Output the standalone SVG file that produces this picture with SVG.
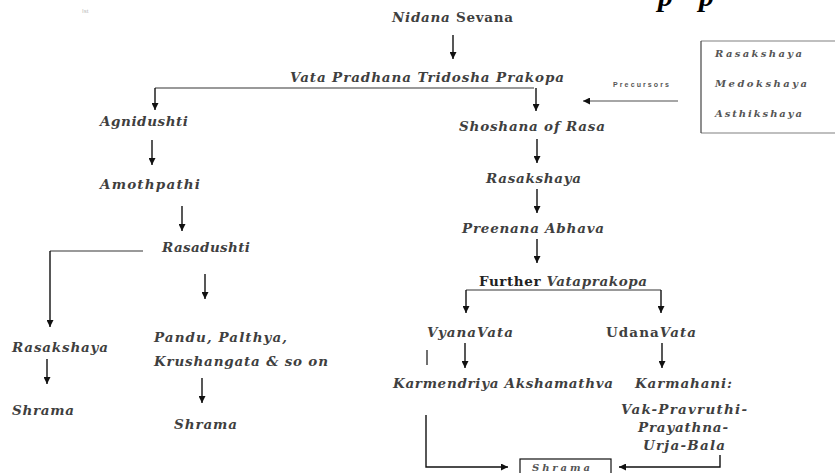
<svg xmlns="http://www.w3.org/2000/svg" width="835" height="473" viewBox="0 0 835 473">
<defs>
<marker id="ah" markerUnits="userSpaceOnUse" markerWidth="7" markerHeight="7" refX="7" refY="3.5" orient="auto">
<path d="M0,0 L7,3.5 L0,7 z" fill="#111"/>
</marker>
<style>
.t{font-family:"DejaVu Serif","Liberation Serif",serif;font-style:italic;font-weight:bold;font-size:13.5px;fill:#3f3f3f}
.s{font-family:"DejaVu Serif","Liberation Serif",serif;font-style:italic;font-weight:bold;font-size:10px;fill:#555}
.u{font-style:normal}
.b{font-style:normal;font-weight:bold;fill:#222}
.a{stroke:#111;stroke-width:1.4;fill:none;marker-end:url(#ah)}
.l{stroke:#777;stroke-width:1.4;fill:none}
.k{stroke:#111;stroke-width:1.2;fill:none}
</style>
</defs>
<rect width="835" height="473" fill="#fff"/>
<text x="82" y="13" font-family="Liberation Sans,sans-serif" font-size="6" fill="#bbb">Ist</text>
<text x="658" y="6" font-family="Liberation Serif,serif" font-style="italic" font-weight="bold" font-size="30" fill="#000">p</text>
<text x="699" y="6" font-family="Liberation Serif,serif" font-style="italic" font-weight="bold" font-size="30" fill="#000">p</text>

<g id="connectors">
<line class="a" x1="453" y1="35" x2="453" y2="59"/>
<polyline class="l" points="155,88 534,88"/>
<line class="a" x1="155" y1="88" x2="155" y2="110"/>
<line class="a" x1="536" y1="88" x2="536" y2="111"/>
<line class="a" x1="152" y1="140" x2="152" y2="165"/>
<line class="a" x1="182" y1="206" x2="182" y2="231"/>
<polyline class="l" points="143,251 50,251"/>
<line class="a" x1="50" y1="251" x2="50" y2="327"/>
<line class="a" x1="205" y1="274" x2="205" y2="299"/>
<line class="a" x1="47" y1="359" x2="47" y2="384"/>
<line class="a" x1="202" y1="378" x2="202" y2="403"/>
<line class="a" x1="678" y1="101" x2="583" y2="101" style="stroke:#888"/>
<line class="a" x1="537" y1="139" x2="537" y2="163"/>
<line class="a" x1="537" y1="189" x2="537" y2="213"/>
<line class="a" x1="537" y1="239" x2="537" y2="263"/>
<polyline class="l" points="466,290 661,290"/>
<line class="a" x1="466" y1="290" x2="466" y2="313"/>
<line class="a" x1="661" y1="290" x2="661" y2="313"/>
<line class="a" x1="465" y1="343" x2="465" y2="368"/>
<line class="a" x1="662" y1="343" x2="662" y2="368"/>
<line class="k" x1="427" y1="350" x2="427" y2="365"/>
<polyline class="a" points="426,415 426,467 508,467"/>
<polyline class="a" points="720,455 720,467 619,467"/>
</g>

<g id="n-nidana"><text class="t" x="392" y="22" textLength="121">Nidana <tspan class="u">Sevana</tspan></text></g>
<g id="n-vata"><text class="t" x="290" y="82" textLength="274">Vata Pradhana Tridosha Prakopa</text></g>
<g id="n-agni"><text class="t" x="100" y="126" textLength="88">Agnidushti</text></g>
<g id="n-amoth"><text class="t" x="100" y="189" textLength="100">Amothpathi</text></g>
<g id="n-rasadushti"><text class="t" x="162" y="252" textLength="88">Rasadushti</text></g>
<g id="n-rasakshaya-l"><text class="t" x="12" y="352" textLength="96">Rasakshaya</text></g>
<g id="n-shrama-l"><text class="t" x="12" y="415" textLength="62">Shrama</text></g>
<g id="n-pandu"><text class="t" x="154" y="342" textLength="133">Pandu, Palthya,</text><text class="t" x="154" y="366" textLength="174">Krushangata &amp; so on</text></g>
<g id="n-shrama-m"><text class="t" x="174" y="429" textLength="63">Shrama</text></g>

<g id="n-precursors"><text x="613" y="87" font-family="Liberation Sans,sans-serif" font-weight="bold" font-size="7" fill="#555" textLength="56">Precursors</text></g>
<g id="n-box">
<line x1="701" y1="41" x2="835" y2="41" stroke="#aaa" stroke-width="1.5"/>
<line x1="701" y1="133" x2="835" y2="133" stroke="#aaa" stroke-width="1.5"/>
<line x1="701" y1="41" x2="701" y2="133" stroke="#444" stroke-width="1.2"/>
<text class="s" x="715" y="57" textLength="87">Rasakshaya</text>
<text class="s" x="715" y="87" textLength="92">Medokshaya</text>
<text class="s" x="715" y="117" textLength="87">Asthikshaya</text>
</g>

<g id="n-shoshana"><text class="t" x="459" y="131" textLength="146">Shoshana of Rasa</text></g>
<g id="n-rasakshaya-r"><text class="t" x="486" y="183" textLength="95">Rasakshaya</text></g>
<g id="n-preenana"><text class="t" x="462" y="233" textLength="142">Preenana Abhava</text></g>
<g id="n-further"><text class="t" x="479" y="286" textLength="168"><tspan class="b">Further</tspan> Vataprakopa</text></g>
<g id="n-vyana"><text class="t" x="427" y="337" textLength="86">VyanaVata</text></g>
<g id="n-udana"><text class="t" x="606" y="337" textLength="90"><tspan class="u">Udana</tspan>Vata</text></g>
<g id="n-karmendriya"><text class="t" x="393" y="388" textLength="220">Karmendriya Akshamathva</text></g>
<g id="n-karmahani">
<text class="t" x="635" y="388" textLength="97">Karmahani:</text>
<text class="t" x="621" y="414" textLength="126">Vak-Pravruthi-</text>
<text class="t" x="638" y="432" textLength="90">Prayathna-</text>
<text class="t" x="643" y="450" textLength="82">Urja-Bala</text>
</g>
<g id="n-shrama-box">
<rect x="520" y="459" width="91" height="20" fill="#fff" stroke="#111" stroke-width="1.2"/>
<text class="s" x="532" y="471" textLength="58" style="font-size:10px">Shrama</text>
</g>
</svg>
